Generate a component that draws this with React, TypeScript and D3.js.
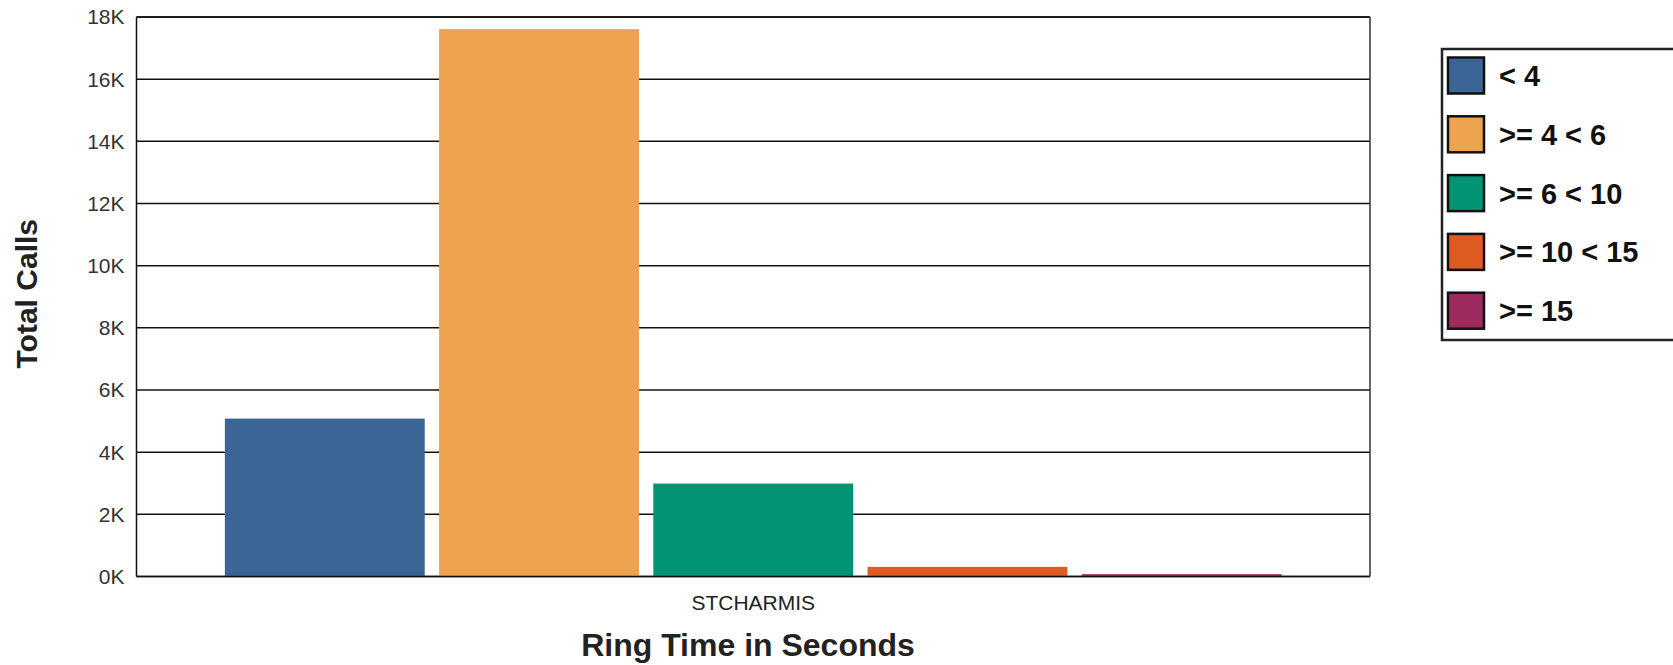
import React from "react";
import * as d3 from "d3";

const categories = ["STCHARMIS"];
const seriesNames = ["< 4", ">= 4 < 6", ">= 6 < 10", ">= 10 < 15", ">= 15"];
const seriesValues = [5080, 17610, 2990, 310, 75];
const seriesColors = ["#3b6594", "#eda24e", "#009472", "#e05b22", "#9d2b60"];
const yTicks = [0, 2000, 4000, 6000, 8000, 10000, 12000, 14000, 16000, 18000];

const W = 1673;
const H = 665;
const plot = { left: 136.5, right: 1370, top: 17, bottom: 576.5 };
const FONT = "'Liberation Sans', Arial, Helvetica, sans-serif";

export default function App() {
  const y = d3.scaleLinear().domain([0, 18000]).range([plot.bottom, plot.top]);
  const x0 = d3
    .scaleBand<string>()
    .domain(categories)
    .range([plot.left, plot.right])
    .paddingInner(0)
    .paddingOuter(0.0758);
  const x1 = d3
    .scaleBand<string>()
    .domain(seriesNames)
    .range([0, x0.bandwidth()])
    .paddingInner(0.067)
    .paddingOuter(0.0335);
  const fmt = (v: number) => `${v / 1000}K`;

  const legend = { x: 1442, y: 49, w: 300, h: 291, swX: 1448, swSize: 36, firstCenter: 75.5, step: 58.8, textX: 1499 };

  return (
    <svg
      width={W}
      height={H}
      style={{ position: "absolute", left: 0, top: 0, background: "#fff" }}
      fontFamily={FONT}
    >
      {/* gridlines */}
      {yTicks.map((t) => (
        <line key={"g" + t} x1={plot.left} x2={plot.right} y1={y(t)} y2={y(t)} stroke="#111" strokeWidth={1.5} />
      ))}
      {/* bars */}
      {categories.map((c) => (
        <g key={c} transform={`translate(${x0(c)},0)`}>
          {seriesNames.map((s, si) => (
            <rect
              key={s}
              x={x1(s)}
              y={y(seriesValues[si])}
              width={x1.bandwidth()}
              height={y(0) - y(seriesValues[si])}
              fill={seriesColors[si]}
            />
          ))}
        </g>
      ))}
      {/* frame */}
      <line x1={plot.left} x2={plot.right} y1={plot.top} y2={plot.top} stroke="#111" strokeWidth={1.5} />
      <line x1={plot.left} x2={plot.right} y1={plot.bottom} y2={plot.bottom} stroke="#111" strokeWidth={1.5} />
      <line x1={plot.left} x2={plot.left} y1={plot.top} y2={plot.bottom} stroke="#111" strokeWidth={1.5} />
      <line x1={plot.right} x2={plot.right} y1={plot.top} y2={plot.bottom} stroke="#333" strokeWidth={1.5} />
      {/* y tick labels */}
      {yTicks.map((t) => (
        <text
          key={"t" + t}
          x={plot.left - 12}
          y={y(t)}
          dy="0.35em"
          textAnchor="end"
          fontSize={21}
          fill="#333"
        >
          {fmt(t)}
        </text>
      ))}
      {/* x category labels */}
      {categories.map((c) => (
        <text
          key={"c" + c}
          x={(x0(c) as number) + x0.bandwidth() / 2}
          y={610}
          textAnchor="middle"
          fontSize={21}
          fill="#222"
        >
          {c}
        </text>
      ))}
      {/* axis titles */}
      <text x={748} y={656} textAnchor="middle" fontSize={32} fontWeight="bold" fill="#222">
        Ring Time in Seconds
      </text>
      <text
        transform={`translate(37,${(plot.top + plot.bottom) / 2 - 3}) rotate(-90)`}
        textAnchor="middle"
        fontSize={30}
        fontWeight="bold"
        fill="#222"
      >
        Total Calls
      </text>
      {/* legend */}
      <rect x={legend.x} y={legend.y} width={legend.w} height={legend.h} fill="#fff" stroke="#222" strokeWidth={2.5} />
      {seriesNames.map((s, i) => {
        const cy = legend.firstCenter + i * legend.step;
        return (
          <g key={"l" + s}>
            <rect
              x={legend.swX}
              y={cy - legend.swSize / 2}
              width={legend.swSize}
              height={legend.swSize}
              fill={seriesColors[i]}
              stroke="#111"
              strokeWidth={2.5}
            />
            <text x={legend.textX} y={cy + 10.5} fontSize={29} fontWeight="bold" fill="#111">
              {s}
            </text>
          </g>
        );
      })}
    </svg>
  );
}
